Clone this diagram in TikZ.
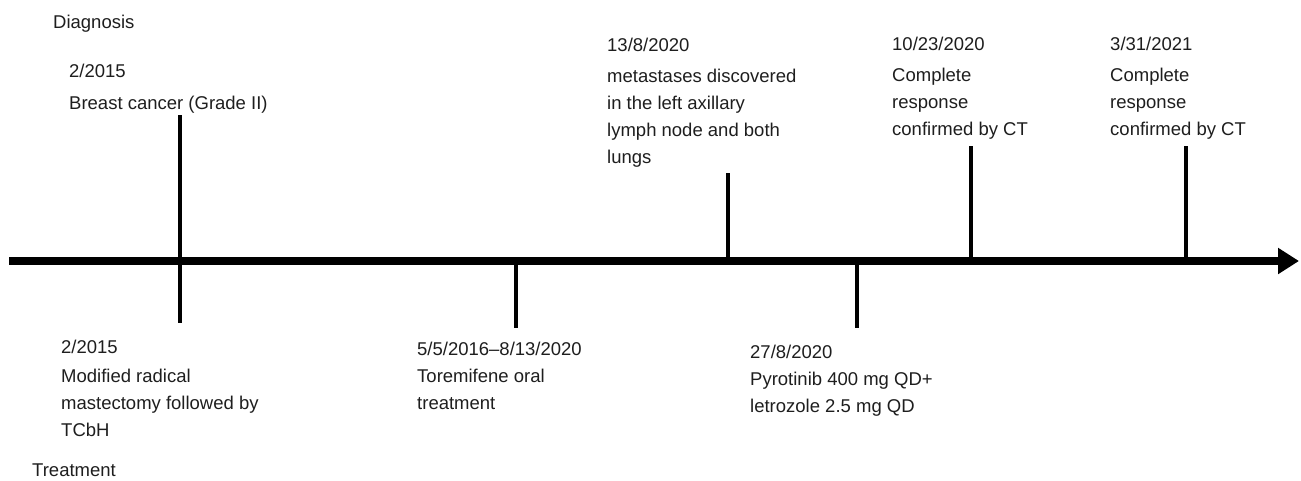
\documentclass[tikz,border=0pt]{standalone}
\usepackage{fontspec}
\setmainfont{Liberation Sans}
\usetikzlibrary{arrows.meta}
\definecolor{txt}{HTML}{1E1E1E}
\tikzset{
  lbl/.style={anchor=base west, inner sep=0pt, align=left, text=txt,
    font=\fontsize{18.5}{27}\selectfont},
  tick/.style={line width=3.5pt, black},
  axis/.style={line width=8pt, black, -{Triangle[length=21pt,width=25pt]}}
}
\begin{document}
\begin{tikzpicture}[x=1pt,y=-1pt]
\useasboundingbox (0,0) rectangle (1301,480);
% axis
\coordinate (a0) at (9,261);
\coordinate (a1) at (1299,261);
\draw[axis] (a0) -- (a1);
% ticks
\coordinate (t1a) at (180,115); \coordinate (t1b) at (180,323);
\coordinate (t2a) at (516,261); \coordinate (t2b) at (516,328);
\coordinate (t3a) at (728,173); \coordinate (t3b) at (728,261);
\coordinate (t4a) at (857,261); \coordinate (t4b) at (857,328);
\coordinate (t5a) at (971,146); \coordinate (t5b) at (971,261);
\coordinate (t6a) at (1186,146); \coordinate (t6b) at (1186,261);
\draw[tick] (t1a) -- (t1b);
\draw[tick] (t2a) -- (t2b);
\draw[tick] (t3a) -- (t3b);
\draw[tick] (t4a) -- (t4b);
\draw[tick] (t5a) -- (t5b);
\draw[tick] (t6a) -- (t6b);
% labels (anchored at the baseline of the last line)
\node[lbl] (diag) at (53,28) {Diagnosis};
\node[lbl] (treat) at (32,476) {Treatment};
\node[lbl] (d1) at (69,109) {2/2015\\[5pt]Breast cancer (Grade II)};
\node[lbl] (d2) at (607,163) {13/8/2020\\[4pt]metastases discovered\\in the left axillary\\lymph node and both\\lungs};
\node[lbl] (d3) at (892,135) {10/23/2020\\[4pt]Complete\\response\\confirmed by CT};
\node[lbl] (d4) at (1110,135) {3/31/2021\\[4pt]Complete\\response\\confirmed by CT};
\node[lbl] (b1) at (61,436) {2/2015\\[2pt]Modified radical\\mastectomy followed by\\TCbH};
\node[lbl] (b2) at (417,409) {5/5/2016--8/13/2020\\Toremifene oral\\treatment};
\node[lbl] (b3) at (750,412) {27/8/2020\\Pyrotinib 400 mg QD+\\letrozole 2.5 mg QD};
\end{tikzpicture}
\end{document}
